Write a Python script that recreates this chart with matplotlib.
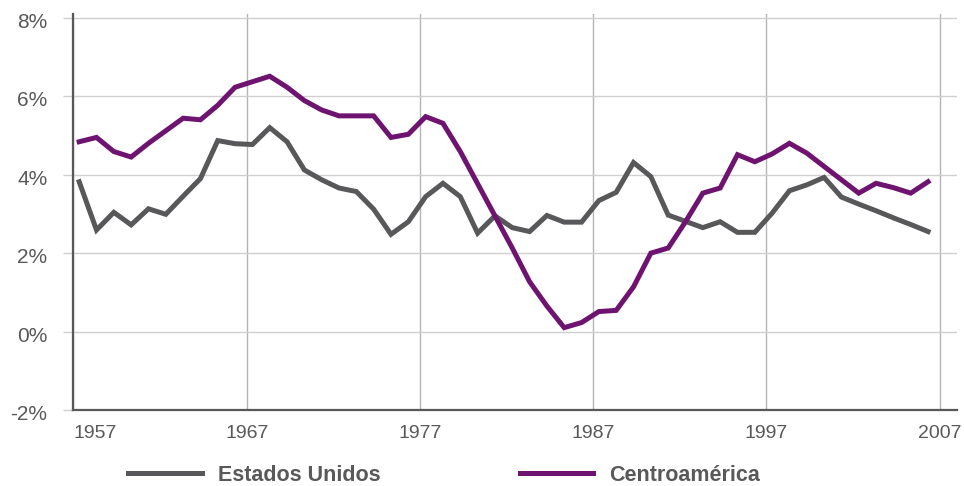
import numpy as np
import matplotlib
matplotlib.use('Agg')
from matplotlib import pyplot as plt
from matplotlib import transforms

# data: one value per year
years = [1957, 1958, 1959, 1960, 1961, 1962, 1963, 1964, 1965, 1966,
         1967, 1968, 1969, 1970, 1971, 1972, 1973, 1974, 1975, 1976,
         1977, 1978, 1979, 1980, 1981, 1982, 1983, 1984, 1985, 1986,
         1987, 1988, 1989, 1990, 1991, 1992, 1993, 1994, 1995, 1996,
         1997, 1998, 1999, 2000, 2001, 2002, 2003, 2004, 2005, 2006]

estados_unidos = [3.82, 2.59, 3.04, 2.72, 3.13, 2.99, 3.45, 3.90, 4.87, 4.79,
                  4.77, 5.20, 4.84, 4.12, 3.87, 3.66, 3.57, 3.12, 2.48, 2.80,
                  3.44, 3.78, 3.44, 2.51, 2.95, 2.65, 2.55, 2.96, 2.79, 2.79,
                  3.34, 3.55, 4.31, 3.95, 2.97, 2.81, 2.65, 2.80, 2.53, 2.53,
                  3.02, 3.59, 3.74, 3.93, 3.43, 3.25, 3.08, 2.90, 2.73, 2.55]

centroamerica = [4.84, 4.95, 4.59, 4.45, 4.80, 5.12, 5.44, 5.40, 5.77, 6.23,
                 6.37, 6.51, 6.23, 5.89, 5.65, 5.50, 5.50, 5.50, 4.95, 5.03,
                 5.48, 5.31, 4.59, 3.77, 2.95, 2.13, 1.27, 0.65, 0.10, 0.23,
                 0.51, 0.54, 1.14, 2.00, 2.13, 2.80, 3.53, 3.66, 4.51, 4.33,
                 4.53, 4.80, 4.55, 4.21, 3.87, 3.53, 3.78, 3.67, 3.53, 3.82]

xticks = [1957, 1967, 1977, 1987, 1997, 2007]
yticks = [-2, 0, 2, 4, 6, 8]

gray = '#58585a'
purple = '#6e1470'
txt = '#595959'

plt.rcParams['font.family'] = ['Liberation Sans', 'DejaVu Sans']

fig = plt.figure(figsize=(9.64, 4.86), dpi=100)
ax = fig.add_axes([0.0762, 0.1564, 0.9165, 0.815])

x = np.array(years) + 0.33
ax.plot(x, estados_unidos, color=gray, lw=3.6, label='Estados Unidos', solid_joinstyle='miter', zorder=3)
ax.plot(x, centroamerica, color=purple, lw=3.6, label='Centroamérica', solid_joinstyle='miter', zorder=3)

ax.set_xlim(1957, 2008)
ax.set_ylim(-2, 8.1)

ax.set_xticks(xticks)
ax.set_xticklabels([str(v) for v in xticks])
ax.get_xticklabels()[0].set_horizontalalignment('left')

# y labels drawn by hand, a little below their gridlines
ax.set_yticks(yticks)
ax.set_yticklabels([])
shift = transforms.ScaledTranslation(-0.26, -0.045, fig.dpi_scale_trans)
for v in yticks:
  ax.text(0, v, '%d%%' % v, transform=ax.get_yaxis_transform() + shift,
          ha='right', va='center', fontsize=15, color=txt)

ax.yaxis.grid(True, color='#d0d0d0', lw=1)
ax.xaxis.grid(True, color='#b4b4b4', lw=1)
ax.set_axisbelow(True)

for s in ['top', 'right']:
  ax.spines[s].set_visible(False)
for s in ['left', 'bottom']:
  ax.spines[s].set_color(gray)
  ax.spines[s].set_linewidth(1.6)

ax.tick_params(axis='y', length=7.5, width=1, color='#d0d0d0')
ax.tick_params(axis='x', length=0, pad=11, labelsize=14, labelcolor=txt)

fig.legend(loc='center', bbox_to_anchor=(0.461, 0.022), ncol=2, frameon=False,
           handlelength=3.4, handletextpad=0.75, columnspacing=6.5, borderpad=0,
           prop={'weight': 'bold', 'size': 15.5}, labelcolor=txt)

plt.savefig('out.png', dpi=100)
